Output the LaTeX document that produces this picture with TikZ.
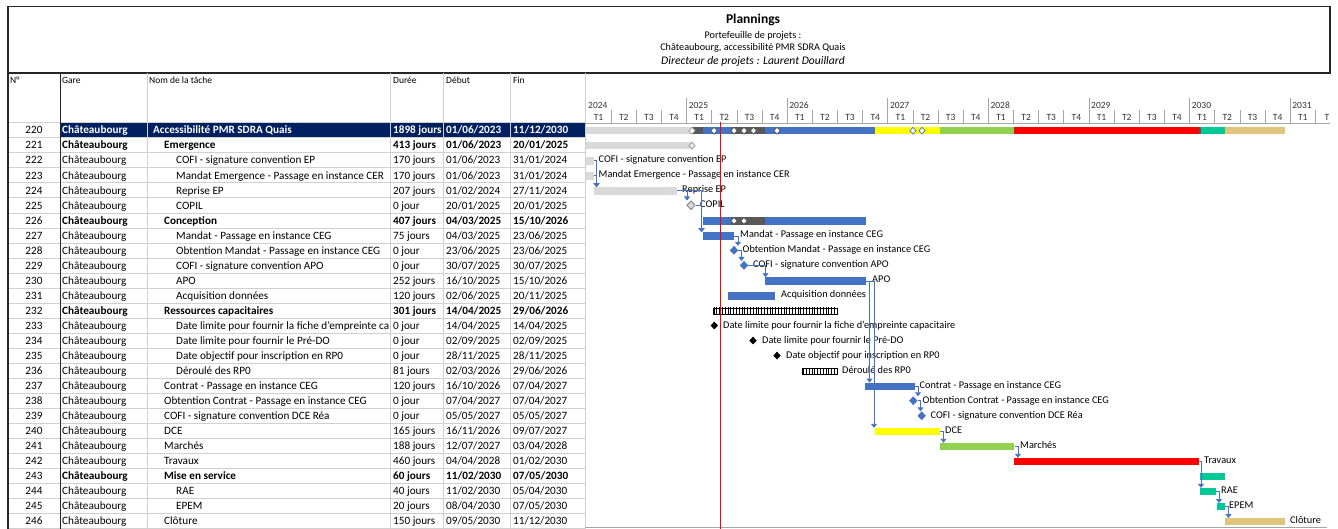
\documentclass[tikz,border=0pt]{standalone}
\usepackage{fontspec}
\setmainfont{Carlito}
\usetikzlibrary{shapes.geometric,arrows.meta,patterns.meta}

\definecolor{navy}{HTML}{002060}
\definecolor{pblue}{HTML}{4472C4}
\definecolor{lgrey}{HTML}{D9D9D9}
\definecolor{dgrey}{HTML}{595959}
\definecolor{pyel}{HTML}{FFFF00}
\definecolor{pgreen}{HTML}{92D050}
\definecolor{pred}{HTML}{FF0000}
\definecolor{pteal}{HTML}{00C896}
\definecolor{ptan}{HTML}{E1C47E}
\definecolor{gridc}{HTML}{D0D0D0}
\definecolor{tickc}{HTML}{A6A6A6}
\definecolor{frame}{HTML}{262626}

\tikzset{
  tcell/.style={anchor=base west, inner sep=0, font=\fontsize{11.2}{13}\selectfont},
  hcell/.style={anchor=base west, inner sep=0, font=\fontsize{9.5}{11}\selectfont},
  tl/.style={inner sep=0, font=\fontsize{9.5}{11}\selectfont, text=black!80},
  gbar/.style={rectangle, draw=none, inner sep=0, minimum height=7.5pt},
  glabel/.style={anchor=base west, inner sep=0, font=\fontsize{10.3}{12}\selectfont},
  link/.style={draw=pblue, line width=0.9pt, -{Triangle[width=6pt,length=4pt]}},
  ms/.style={diamond, inner sep=0, minimum width=8.5pt, minimum height=9pt},
  sd/.style={diamond, fill=white, inner sep=0, minimum width=6.5pt, minimum height=7pt, line width=0.7pt},
  hatch/.style={rectangle, draw=black, line width=0.6pt, inner sep=0, minimum height=6pt,
    pattern={Lines[angle=90,distance=2.8pt,line width=1pt]}},
  tick/.style={draw=tickc, line width=0.8pt},
  grid/.style={draw=gridc, line width=0.6pt}
}

\newcommand\trow[8]{%
  \pgfmathsetmacro\yb{130+15.04*#1+3.9}%
  \node[tcell,anchor=base] (n#2) at (34,\yb) {#2};
  \node[tcell] (g#2) at (62,\yb) {#3Châteaubourg};
  \node[tcell] (t#2) at (#4,\yb) {#3#5};
  \node[tcell] (d#2) at (393,\yb) {#3#6};
  \node[tcell] (s#2) at (446,\yb) {#3#7};
  \node[tcell] (f#2) at (513,\yb) {#3#8};
}
\newcommand\gbar[5]{\node[gbar,fill=#5,minimum width={(#3-#2)*1pt}] (#1) at ({(#2+#3)/2},{130.7+15.04*#4}) {};}
\newcommand\glab[4]{\node[glabel] (#1) at (#2,{130+15.04*#3+2.5}) {#4};}
\newcommand\mst[4]{\node[ms,#4] (#1) at (#2,{130+15.04*#3}) {};}

\begin{document}
\begin{tikzpicture}[x=1pt,y=-1pt]
\useasboundingbox[fill=white] (0,0) rectangle (1338,529);

% ---------- header box
\draw[frame, line width=1.1pt] (8,6.5) rectangle (1330,73);
\node[font=\bfseries\fontsize{13.5}{15}\selectfont] (title) at (753,19.5) {Plannings};
\node[font=\fontsize{10.2}{11}\selectfont] (sub1) at (753,35.5) {Portefeuille de projets :};
\node[font=\fontsize{10.2}{11}\selectfont] (sub2) at (753,47.5) {Châteaubourg, accessibilité PMR SDRA Quais};
\node[font=\itshape\fontsize{11.6}{13}\selectfont] (sub3) at (753,61) {Directeur de projets : Laurent Douillard};

% ---------- table background and grid
\fill[navy] (60,122.6) rectangle (585,137.6);
\foreach \k in {0,...,27} {
  \draw[grid] (8,{122.6+15.04*\k}) -- (585,{122.6+15.04*\k});
}
\foreach \xx in {147,390,443,510,585} {
  \draw[grid] (\xx,73) -- (\xx,529);
}
\draw[frame, line width=0.9pt] (60,73) -- (60,529);
\draw[frame, line width=1.1pt] (8,6.5) -- (8,529);
\draw[tickc, line width=0.8pt] (585,123) -- (1330,123);
\draw[tickc, line width=0.8pt] (585,527.5) -- (1327,527.5);

% column headers
\node[hcell] (hN) at (10,84) {N°};
\node[hcell] (hG) at (62,84) {Gare};
\node[hcell] (hT) at (149,84) {Nom de la tâche};
\node[hcell] (hD) at (393,84) {Durée};
\node[hcell] (hS) at (446,84) {Début};
\node[hcell] (hF) at (513,84) {Fin};

% ---------- rows
\trow{0}{220}{\bfseries\color{white}}{153}{Accessibilité PMR SDRA Quais}{1898 jours}{01/06/2023}{11/12/2030}
\trow{1}{221}{\bfseries}{164}{Emergence}{413 jours}{01/06/2023}{20/01/2025}
\trow{2}{222}{}{176}{COFI - signature convention EP}{170 jours}{01/06/2023}{31/01/2024}
\trow{3}{223}{}{176}{Mandat Emergence - Passage en instance CER}{170 jours}{01/06/2023}{31/01/2024}
\trow{4}{224}{}{176}{Reprise EP}{207 jours}{01/02/2024}{27/11/2024}
\trow{5}{225}{}{176}{COPIL}{0 jour}{20/01/2025}{20/01/2025}
\trow{6}{226}{\bfseries}{164}{Conception}{407 jours}{04/03/2025}{15/10/2026}
\trow{7}{227}{}{176}{Mandat - Passage en instance CEG}{75 jours}{04/03/2025}{23/06/2025}
\trow{8}{228}{}{176}{Obtention Mandat - Passage en instance CEG}{0 jour}{23/06/2025}{23/06/2025}
\trow{9}{229}{}{176}{COFI - signature convention APO}{0 jour}{30/07/2025}{30/07/2025}
\trow{10}{230}{}{176}{APO}{252 jours}{16/10/2025}{15/10/2026}
\trow{11}{231}{}{176}{Acquisition données}{120 jours}{02/06/2025}{20/11/2025}
\trow{12}{232}{\bfseries}{164}{Ressources capacitaires}{301 jours}{14/04/2025}{29/06/2026}
\trow{13}{233}{}{176}{Date limite pour fournir la fiche d'empreinte ca}{0 jour}{14/04/2025}{14/04/2025}
\trow{14}{234}{}{176}{Date limite pour fournir le Pré-DO}{0 jour}{02/09/2025}{02/09/2025}
\trow{15}{235}{}{176}{Date objectif pour inscription en RP0}{0 jour}{28/11/2025}{28/11/2025}
\trow{16}{236}{}{176}{Déroulé des RP0}{81 jours}{02/03/2026}{29/06/2026}
\trow{17}{237}{}{164}{Contrat - Passage en instance CEG}{120 jours}{16/10/2026}{07/04/2027}
\trow{18}{238}{}{164}{Obtention Contrat - Passage en instance CEG}{0 jour}{07/04/2027}{07/04/2027}
\trow{19}{239}{}{164}{COFI - signature convention DCE Réa}{0 jour}{05/05/2027}{05/05/2027}
\trow{20}{240}{}{164}{DCE}{165 jours}{16/11/2026}{09/07/2027}
\trow{21}{241}{}{164}{Marchés}{188 jours}{12/07/2027}{03/04/2028}
\trow{22}{242}{}{164}{Travaux}{460 jours}{04/04/2028}{01/02/2030}
\trow{23}{243}{\bfseries}{164}{Mise en service}{60 jours}{11/02/2030}{07/05/2030}
\trow{24}{244}{}{176}{RAE}{40 jours}{11/02/2030}{05/04/2030}
\trow{25}{245}{}{176}{EPEM}{20 jours}{08/04/2030}{07/05/2030}
\trow{26}{246}{}{164}{Clôture}{150 jours}{09/05/2030}{11/12/2030}

% ---------- timeline
\foreach \yr [count=\i from 0] in {2024,...,2031} {
  \pgfmathsetmacro\xs{586+100.6*\i}
  \node[tl,anchor=base west] (y\yr) at ({\xs+2},108.5) {\yr};
  \ifnum\i>0 \draw[tick] (\xs,98) -- (\xs,123); \fi
  \foreach \q in {1,...,4} {
    \ifnum\i<7
      \node[tl,anchor=base] (q\yr\q) at ({\xs+25.15*(\q-0.5)},120.5) {T\q};
      \ifnum\q<4 \draw[tick] ({\xs+25.15*\q},110.5) -- ({\xs+25.15*\q},123); \fi
    \fi
  }
}
\node[tl,anchor=base] (q20311) at ({586+100.6*7+12.6},120.5) {T1};
\draw[tick] ({586+100.6*7+25.15},110.5) -- ({586+100.6*7+25.15},123);
\node[tl,anchor=base west] (q20312) at (1324.5,120.5) {T};

% ---------- gantt bars
% 220 summary
\gbar{p1}{585.5}{692}{0}{lgrey}
\gbar{p2}{692}{703}{0}{dgrey}
\gbar{p3}{703}{731}{0}{pblue}
\gbar{p4}{731}{765}{0}{dgrey}
\gbar{p5}{765}{875}{0}{pblue}
\gbar{p6}{875}{940}{0}{pyel}
\gbar{p7}{940}{1013.5}{0}{pgreen}
\gbar{p8}{1013.5}{1199}{0}{pred}
\gbar{p9}{1199}{1200.5}{0}{dgrey}
\gbar{p10}{1200.5}{1225}{0}{pteal}
\gbar{p11}{1225}{1285}{0}{ptan}
\node[sd,draw=lgrey!70!black] (z1) at (692,130.7) {};
\node[sd,draw=dgrey] (z2) at (714,130.7) {};
\node[sd,draw=dgrey] (z3) at (734,130.7) {};
\node[sd,draw=dgrey] (z4) at (744,130.7) {};
\node[sd,draw=dgrey] (z5) at (753.5,130.7) {};
\node[sd,draw=dgrey] (z6) at (777,130.7) {};
\node[sd,draw=pblue] (z7) at (913,130.7) {};
\node[sd,draw=pblue] (z8) at (922,130.7) {};

% Emergence
\gbar{b221}{585.5}{692}{1}{lgrey}
\node[sd,draw=lgrey!70!black,fill=lgrey!50] (z9) at (692,145.7) {};
\gbar{b222}{586}{593.5}{2}{lgrey}
\gbar{b223}{586}{593.5}{3}{lgrey}
\gbar{b224}{593.5}{677}{4}{lgrey}
\mst{m225}{691}{5}{fill=lgrey,draw=gray,line width=0.8pt}

% Conception
\gbar{b226a}{703}{731}{6}{pblue}
\gbar{b226b}{731}{765}{6}{dgrey}
\gbar{b226c}{765}{866}{6}{pblue}
\node[sd,draw=dgrey] (z10) at (734,220.9) {};
\node[sd,draw=dgrey] (z11) at (744,220.9) {};
\gbar{b227}{703}{734}{7}{pblue}
\mst{m228}{734}{8}{fill=pblue}
\mst{m229}{744}{9}{fill=pblue}
\gbar{b230}{765}{866}{10}{pblue}
\gbar{b231}{728}{775}{11}{pblue}

% Ressources capacitaires
\node[hatch,minimum width=124pt] (b232) at (775,310.9) {};
\mst{m233}{714.3}{13}{fill=black,minimum width=7.5pt,minimum height=8pt}
\mst{m234}{753}{14}{fill=black,minimum width=7.5pt,minimum height=8pt}
\mst{m235}{777}{15}{fill=black,minimum width=7.5pt,minimum height=8pt}
\node[hatch,minimum width=35pt] (b236) at (819.5,371) {};

\gbar{b237}{865}{915}{17}{pblue}
\mst{m238}{913.3}{18}{fill=pblue}
\mst{m239}{921.7}{19}{fill=pblue}
\gbar{b240}{875}{939.5}{20}{pyel}
\gbar{b241}{940}{1014.3}{21}{pgreen}
\gbar{b242}{1013.5}{1198.5}{22}{pred}
\gbar{b243}{1200}{1224.5}{23}{pteal}
\gbar{b244}{1200}{1215.5}{24}{pteal}
\gbar{b245}{1216.5}{1224.5}{25}{pteal}
\gbar{b246}{1225}{1285}{26}{ptan}

% ---------- gantt labels
\glab{l222}{598.5}{2}{COFI - signature convention EP}
\glab{l223}{598.5}{3}{Mandat Emergence - Passage en instance CER}
\glab{l224}{682}{4}{Reprise EP}
\glab{l225}{700}{5}{COPIL}
\glab{l227}{740}{7}{Mandat - Passage en instance CEG}
\glab{l228}{742.5}{8}{Obtention Mandat - Passage en instance CEG}
\glab{l229}{753}{9}{COFI - signature convention APO}
\glab{l230}{872}{10}{APO}
\glab{l231}{781}{11}{Acquisition données}
\glab{l233}{723}{13}{Date limite pour fournir la fiche d'empreinte capacitaire}
\glab{l234}{762}{14}{Date limite pour fournir le Pré-DO}
\glab{l235}{786}{15}{Date objectif pour inscription en RP0}
\glab{l236}{842}{16}{Déroulé des RP0}
\glab{l237}{919.5}{17}{Contrat - Passage en instance CEG}
\glab{l238}{922.5}{18}{Obtention Contrat - Passage en instance CEG}
\glab{l239}{930.5}{19}{COFI - signature convention DCE Réa}
\glab{l240}{945}{20}{DCE}
\glab{l241}{1020}{21}{Marchés}
\glab{l242}{1204}{22}{Travaux}
\glab{l244}{1221}{24}{RAE}
\glab{l245}{1229}{25}{EPEM}
\glab{l246}{1290}{26}{Clôture}

% ---------- links
\coordinate (a224) at (596.5,187.2);
\draw[link] (b222.east) -| (a224);
\draw[link] (b223.east) -| (a224);
\coordinate (a225) at (687,200.5);
\draw[link] (b224.east) -| (a225);
\coordinate (a227) at (701.5,232.2);
\draw[link] (b224.east) -| (a227);
\draw[link] (m225.east) -| (a227);
\coordinate (a228) at (738,245.8);
\draw[link] (b227.east) -| (a228);
\coordinate (a229) at (741.5,261);
\draw[link] (m228.east) -| (a229);
\coordinate (a230) at (765.5,277.3);
\draw[link] (m229.east) -| (a230);
\coordinate (a237) at (869.5,382.6);
\draw[link] (b230.east) -| (a237);
\coordinate (a240) at (874,427.8);
\draw[link] (b230.east) -| (a240);
\coordinate (a238) at (918,396.3);
\draw[link] (b237.east) -| (a238);
\coordinate (a239) at (920.5,411.3);
\draw[link] (m238.east) -| (a239);
\coordinate (a241) at (943.5,442.8);
\draw[link] (b240.east) -| (a241);
\coordinate (a242) at (1018,457.8);
\draw[link] (b241.east) -| (a242);
\coordinate (a244) at (1201,487.9);
\draw[link] (b242.east) -| (a244);
\coordinate (a245) at (1219,503);
\draw[link] (b244.east) -| (a245);
\coordinate (a246) at (1228.5,518);
\draw[link] (b245.east) -| (a246);

% ---------- today line
\coordinate (today0) at (720,122);
\coordinate (today1) at (720,529);
\draw[pred, line width=0.9pt] (today0) -- (today1);
\end{tikzpicture}
\end{document}
